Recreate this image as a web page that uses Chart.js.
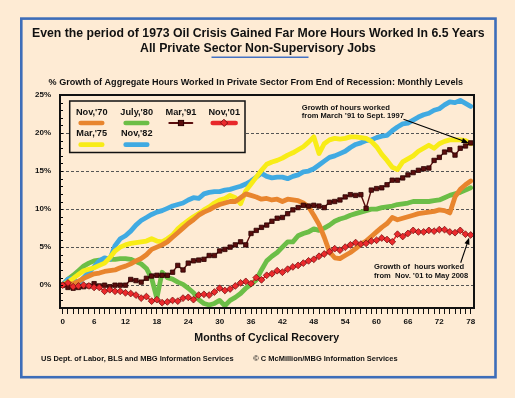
<!DOCTYPE html>
<html><head><meta charset="utf-8">
<script src="https://cdn.jsdelivr.net/npm/chart.js@4.4.0/dist/chart.umd.min.js"></script>
<style>html,body{margin:0;padding:0;background:#FEEBD4;}canvas{display:block;}</style>
</head><body>
<canvas id="c" width="515" height="398"></canvas>
<script>
const months = [0,1,2,3,4,5,6,7,8,9,10,11,12,13,14,15,16,17,18,19,20,21,22,23,24,25,26,27,28,29,30,31,32,33,34,35,36,37,38,39,40,41,42,43,44,45,46,47,48,49,50,51,52,53,54,55,56,57,58,59,60,61,62,63,64,65,66,67,68,69,70,71,72,73,74,75,76,77,78];
const xTickLabels = ['0','6','12','18','24','30','36','42','48','54','60','66','72','78'];
const yTickLabels = ['0%','5%','10%','15%','20%','25%'];

const nov70 = [0,0.1,0.2,0.5,0.9,1.2,1.5,1.6,1.8,1.9,2.0,2.3,2.5,2.8,3.2,3.5,4.0,4.7,5.0,5.3,5.7,6.3,6.9,7.5,8.1,8.6,9.2,9.6,9.9,10.3,10.6,10.8,11.0,11.0,11.5,12.0,11.8,11.6,11.3,11.4,11.2,11.3,11.0,11.3,11.2,11.1,10.8,10.3,9.2,8.0,6.3,4.4,3.6,3.5,3.9,4.3,4.8,5.4,5.8,6.4,7.0,7.6,8.1,8.9,8.6,8.8,9.0,9.2,9.4,9.5,9.6,9.7,9.9,9.8,9.5,11.6,12.6,13.2,13.7];
const mar75 = [0,0.4,0.9,1.4,1.9,2.1,2.3,2.6,2.9,3.6,4.5,5.0,5.3,5.5,5.6,5.7,5.8,6.1,5.8,5.7,6.1,6.6,7.4,8.0,8.5,9.0,9.4,9.9,10.3,10.8,11.2,11.4,11.8,11.5,10.7,12.4,13.3,14.2,15.1,15.9,16.2,16.4,16.7,17.1,17.4,17.8,18.2,18.8,19.5,17.3,18.6,19.1,19.3,19.2,19.3,19.5,19.5,19.4,19.3,18.9,18.2,17.2,16.4,15.5,15.2,16.2,16.6,17.0,17.6,18.0,18.4,18.0,18.6,18.9,19.1,19.1,19.1,19.0,18.6];
const jul80 = [0,0.8,1.3,1.9,2.5,2.9,3.2,3.3,3.3,3.4,3.4,3.5,3.5,3.4,3.1,2.8,2.2,0.9,-1.7,1.7,1.0,0.8,0.4,0.1,-0.4,-1.0,-1.9,-2.4,-2.6,-2.4,-2.0,-2.7,-2.0,-1.6,-1.1,-0.4,0.1,0.7,2.0,3.2,3.8,4.3,5.0,5.7,5.7,6.5,6.8,7.0,7.4,7.2,7.5,7.9,8.4,8.7,8.9,9.2,9.4,9.6,9.8,10.0,10.0,10.2,10.3,10.4,10.6,10.7,10.8,11.0,11.0,11.0,11.0,11.1,11.2,11.5,11.8,12.0,12.2,12.5,12.8];
const nov82 = [0,0.8,0.9,0.2,1.0,1.7,2.4,3.2,3.6,3.4,5.2,6.1,6.5,7.1,7.9,8.5,8.9,9.3,9.6,9.8,10.1,10.4,10.6,10.8,11.2,11.5,11.4,12.0,12.2,12.3,12.3,12.5,12.6,12.8,13.0,13.3,13.7,14.2,14.7,14.3,14.1,14.2,14.2,14.0,14.3,14.5,14.9,15.0,15.3,15.8,16.3,16.8,17.0,17.3,17.6,18.1,18.5,18.7,19.0,19.1,19.4,19.6,19.7,20.3,20.8,21.2,21.3,21.7,22.1,22.4,22.6,23.0,23.2,23.7,24.1,24.0,24.3,23.9,23.5];
const mar91 = [0,-0.3,-0.4,-0.3,-0.2,-0.1,0.2,-0.1,0.0,-0.2,0.0,0.0,0.0,0.75,0.6,0.4,0.9,1.2,1.3,1.3,1.3,1.7,2.6,2.0,2.9,3.2,3.3,3.4,3.9,3.9,4.5,4.7,5.0,5.3,5.7,5.3,6.8,7.2,7.6,7.9,8.4,8.8,8.9,9.4,9.9,10.2,10.5,10.4,10.5,10.4,10.2,10.9,11.0,11.2,11.6,11.9,11.8,11.9,10.1,12.5,12.7,12.8,13.2,13.8,13.8,14.1,14.5,14.8,15.1,15.3,15.4,16.4,16.8,17.5,17.8,17.1,18.0,18.3,18.7];
const nov01 = [0,0.3,-0.2,-0.1,0,-0.1,-0.3,-0.3,-0.8,-0.6,-0.8,-0.8,-1.0,-1.1,-1.3,-1.7,-1.5,-2.1,-1.9,-2.3,-2.2,-2.0,-2.1,-1.7,-1.6,-1.9,-1.3,-1.2,-1.3,-0.9,-0.4,-0.7,-0.5,-0.1,0.3,0.5,0.2,1.0,0.7,1.3,1.5,1.9,1.7,2.1,2.4,2.6,2.9,3.2,3.4,3.8,4.1,4.4,4.8,4.6,5.0,5.3,5.6,5.4,5.5,5.8,5.9,6.2,6.0,5.7,6.7,6.4,6.8,7.2,7.0,7.0,7.2,7.1,7.3,7.3,7.0,6.9,7.2,6.7,6.6];

const seriesNames = ["Nov,'70","Mar,'75","July,'80","Nov,'82","Mar,'91","Nov,'01"];
const titleLines = ['Even the period of 1973 Oil Crisis Gained Far More Hours Worked In 6.5 Years','All Private Sector Non-Supervisory Jobs'];
const subTitle = '% Growth of Aggregate Hours Worked In Private Sector From End of Recession: Monthly Levels';
const xTitle = 'Months of Cyclical Recovery';
const footLeft = 'US Dept. of Labor, BLS and MBG Information Services';
const footRight = '\u00A9 C McMillion/MBG Information Services';
const note1 = ['Growth of hours worked','from March \u201991 to Sept. 1997'];
const note2 = ['Growth of  hours worked','from  Nov. \u201901 to May 2008'];

const BG = '#FEEBD4';
const FONT = '"Liberation Sans", Arial, Helvetica, sans-serif';
const C = {orange:'#E8852E', yellow:'#F8EC17', green:'#6CBE47', blue:'#40AAE2', brown:'#5A0D0D', red:'#E8282B'};

function fitText(ctx, text, x, y, w, align) {
  ctx.font = 'bold 10px ' + FONT;
  const m = ctx.measureText(text).width;
  const s = 10 * w / m;
  ctx.font = 'bold ' + s.toFixed(2) + 'px ' + FONT;
  ctx.textAlign = align; ctx.textBaseline = 'middle';
  ctx.fillStyle = '#111';
  ctx.fillText(text, x, y);
}
function arrow(ctx, x1, y1, x2, y2) {
  const a = Math.atan2(y2 - y1, x2 - x1), L = 7, W = 2.6;
  ctx.strokeStyle = '#000'; ctx.fillStyle = '#000'; ctx.lineWidth = 1.1;
  ctx.beginPath(); ctx.moveTo(x1, y1);
  ctx.lineTo(x2 - L * Math.cos(a), y2 - L * Math.sin(a)); ctx.stroke();
  ctx.beginPath(); ctx.moveTo(x2, y2);
  ctx.lineTo(x2 - L * Math.cos(a) + W * Math.sin(a), y2 - L * Math.sin(a) - W * Math.cos(a));
  ctx.lineTo(x2 - L * Math.cos(a) - W * Math.sin(a), y2 - L * Math.sin(a) + W * Math.cos(a));
  ctx.closePath(); ctx.fill();
}

// dataset indexes
const DS = {red: 0, brown: 1, orange: 2, yellow: 3, blue: 4, green: 5};

const deco = {
  id: 'deco',
  beforeDraw(chart) {
    const ctx = chart.ctx;
    ctx.save();
    ctx.fillStyle = BG; ctx.fillRect(0, 0, chart.width, chart.height);
    ctx.strokeStyle = '#3D6DB9'; ctx.lineWidth = 2.6;
    ctx.strokeRect(21.3, 18.6, 474.2, 358.6);
    ctx.restore();
  },
  afterDraw(chart) {
    const ctx = chart.ctx, a = chart.chartArea;
    const xs = chart.scales.x, ys = chart.scales.y;
    ctx.save();
    fitText(ctx, titleLines[0], 258.3, 33.5, 453, 'center');
    fitText(ctx, titleLines[1], 258, 48.7, 236, 'center');
    ctx.strokeStyle = '#4472C4'; ctx.lineWidth = 1.6;
    ctx.beginPath(); ctx.moveTo(211.5, 57.3); ctx.lineTo(308.5, 57.3); ctx.stroke();
    fitText(ctx, subTitle, 255.8, 82.8, 415, 'center');
    fitText(ctx, xTitle, 266.7, 338.5, 145, 'center');
    fitText(ctx, footLeft, 41, 359.3, 192.5, 'left');
    fitText(ctx, footRight, 253.3, 359.3, 144.4, 'left');
    ctx.strokeStyle = '#000'; ctx.lineWidth = 1;
    for (let v = -2; v <= 24; v++) {
      const y = Math.round(ys.getPixelForValue(v)) + 0.5;
      ctx.beginPath(); ctx.moveTo(a.left, y); ctx.lineTo(a.left + 3, y); ctx.stroke();
    }
    ctx.lineWidth = 2; ctx.strokeStyle = '#111';
    ctx.strokeRect(a.left, a.top, a.right - a.left, a.bottom - a.top);
    // legend box
    ctx.fillStyle = BG; ctx.fillRect(69.7, 101, 175.3, 51.5);
    ctx.lineWidth = 1.5; ctx.strokeStyle = '#111';
    ctx.strokeRect(69.7, 101, 175.3, 51.5);
    const ds = chart.data.datasets;
    const cols = [91.7, 136.7, 181, 224.2];
    const slots = [[DS.orange,0,0],[DS.green,1,0],[DS.brown,2,0],[DS.red,3,0],[DS.yellow,0,1],[DS.blue,1,1]];
    slots.forEach(([di, col, row]) => {
      const d = ds[di];
      const cx = cols[col], ly = row ? 133.7 : 112.3, sy = row ? 144.7 : 123;
      ctx.font = 'bold 9.2px ' + FONT; ctx.textAlign = 'center'; ctx.textBaseline = 'middle';
      ctx.fillStyle = '#111'; ctx.fillText(d.label, cx, ly);
      ctx.lineCap = 'round';
      if (di === DS.brown) {
        ctx.strokeStyle = d.borderColor; ctx.lineWidth = 2;
        ctx.beginPath(); ctx.moveTo(cx - 11.7, sy); ctx.lineTo(cx + 11.3, sy); ctx.stroke();
        ctx.fillStyle = d.pointBackgroundColor; ctx.strokeStyle = d.pointBorderColor; ctx.lineWidth = 1;
        ctx.fillRect(cx - 2.6, sy - 2.6, 5.2, 5.2); ctx.strokeRect(cx - 2.6, sy - 2.6, 5.2, 5.2);
      } else if (di === DS.red) {
        ctx.strokeStyle = d.borderColor; ctx.lineWidth = 4.5;
        ctx.beginPath(); ctx.moveTo(cx - 11.5, sy); ctx.lineTo(cx + 11.5, sy); ctx.stroke();
        ctx.fillStyle = d.pointBackgroundColor; ctx.strokeStyle = d.pointBorderColor; ctx.lineWidth = 1;
        ctx.beginPath(); ctx.moveTo(cx, sy - 3.5); ctx.lineTo(cx + 3.5, sy); ctx.lineTo(cx, sy + 3.5); ctx.lineTo(cx - 3.5, sy); ctx.closePath(); ctx.fill(); ctx.stroke();
      } else {
        ctx.strokeStyle = d.borderColor; ctx.lineWidth = 4.7;
        ctx.beginPath(); ctx.moveTo(cx - 11, sy); ctx.lineTo(cx + 10.5, sy); ctx.stroke();
      }
    });
    ctx.lineCap = 'butt';
    fitText(ctx, note1[0], 301.7, 107.7, 88.3, 'left');
    fitText(ctx, note1[1], 301.7, 116.2, 102.3, 'left');
    const bx = xs.getPixelForValue(months[78]) - 2, by = ys.getPixelForValue(mar91[78]);
    arrow(ctx, 403.5, 119.3, bx, by);
    fitText(ctx, note2[0], 374, 267.3, 90, 'left');
    fitText(ctx, note2[1], 374, 275.5, 94.3, 'left');
    const rx = xs.getPixelForValue(months[78]) - 1.5, ry = ys.getPixelForValue(nov01[78]) + 2.5;
    arrow(ctx, 460.7, 262.7, rx, ry);
    ctx.restore();
  }
};

const thick = (label, data, color) => ({
  label, data, borderColor: color, backgroundColor: color, borderWidth: 4.8,
  pointRadius: 0, pointHoverRadius: 0, tension: 0, borderJoinStyle: 'round', borderCapStyle: 'round', fill: false
});

new Chart(document.getElementById('c'), {
  type: 'line',
  data: {
    labels: months,
    datasets: [
      {label: seriesNames[5], data: nov01, borderColor: C.red, backgroundColor: C.red, borderWidth: 1.6,
       pointStyle: 'rectRot', pointRadius: 3.4, pointBackgroundColor: '#EC2A2D', pointBorderColor: '#7A1212', pointBorderWidth: 0.8, tension: 0, fill: false},
      {label: seriesNames[4], data: mar91, borderColor: C.brown, backgroundColor: C.brown, borderWidth: 1.4,
       pointStyle: 'rect', pointRadius: 3.1, pointBackgroundColor: '#5A0D0D', pointBorderColor: '#2A0000', pointBorderWidth: 0.8, tension: 0, fill: false},
      thick(seriesNames[0], nov70, C.orange),
      thick(seriesNames[1], mar75, C.yellow),
      thick(seriesNames[3], nov82, C.blue),
      thick(seriesNames[2], jul80, C.green)
    ]
  },
  options: {
    responsive: false, animation: false, devicePixelRatio: 1,
    layout: {padding: {left: 20, right: 41, top: 95, bottom: 68}},
    plugins: {legend: {display: false}, tooltip: {enabled: false}, title: {display: false}},
    events: [],
    scales: {
      x: {
        type: 'linear', min: -0.52, max: 78.63,
        afterFit(s) { s.height = 22; },
        ticks: {stepSize: 1, autoSkip: false, includeBounds: false, maxRotation: 0, minRotation: 0, padding: 3,
          color: '#111', font: {family: FONT, size: 8, weight: 'bold'},
          callback: (v) => (v % 6 === 0 ? xTickLabels[v / 6] : '')},
        grid: {drawOnChartArea: false, drawTicks: true, tickLength: 6, color: '#111', lineWidth: 1},
        border: {display: true, color: '#111', width: 2}
      },
      y: {
        min: -3, max: 25,
        afterFit(s) { s.width = 40; },
        ticks: {stepSize: 5, includeBounds: false, padding: 9, color: '#111',
          font: {family: FONT, size: 8, weight: 'bold'},
          callback: (v) => yTickLabels[v / 5]},
        grid: {drawTicks: false, lineWidth: 1, color: (c) => (c.tick && c.tick.value === 25 ? 'rgba(0,0,0,0)' : '#555')},
        border: {display: true, color: '#111', width: 2, dash: [3, 2]}
      }
    }
  },
  plugins: [deco]
});
</script>
</body></html>
